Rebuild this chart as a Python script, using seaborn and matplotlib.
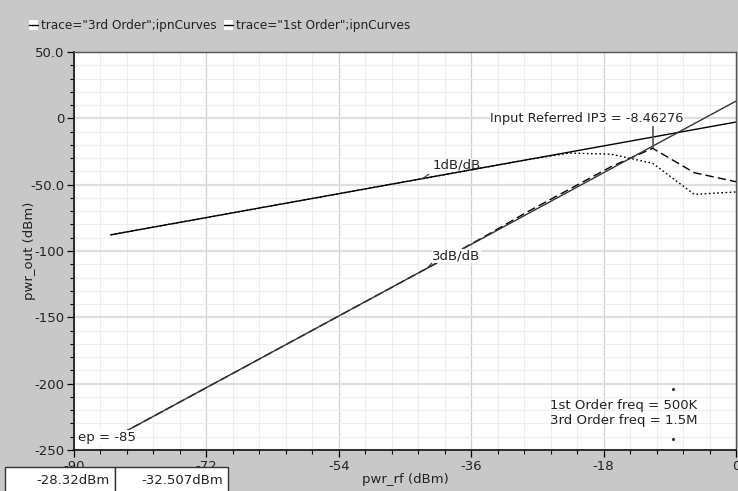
import matplotlib
matplotlib.use("Agg")
import matplotlib.pyplot as plt
from matplotlib.patches import Rectangle
from matplotlib.lines import Line2D
from matplotlib.ticker import MultipleLocator, FixedLocator
import seaborn as sns
import pandas as pd

# ---------------- data ----------------
pin = [-85, -79.33, -73.67, -68, -62.33, -56.67, -51, -45.33, -39.67,
       -34, -28.33, -22.67, -17, -11.33, -5.67, 0]
first_order = [-87.8, -82.1, -76.5, -70.8, -65.1, -59.5, -53.8, -48.1, -42.5,
               -36.8, -31.1, -26.2, -27.0, -33.9, -57.3, -55.5]
third_order = [-242, -225, -208, -191, -174, -157, -140, -123, -106,
               -88.5, -70.4, -53.5, -36.5, -22.6, -41.0, -47.8]
ext1_x = [-85, 0]
ext1_y = [-87.8, -2.8]
ext3_x = [-85, 0]
ext3_y = [-242, 13]
ip3_label = "Input Referred IP3 = -8.46276"
ip3_top = -3.5
freq_dots_x = [-8.6, -8.6]
freq_dots_y = [-204, -241.7]
x_ticks = [-90, -72, -54, -36, -18, 0]
y_ticks = [50, 0, -50, -100, -150, -200, -250]
y_tick_labels = ["50.0", "0", "-50.0", "-100", "-150", "-200", "-250"]
legend_labels = ['trace="3rd Order";ipnCurves', 'trace="1st Order";ipnCurves']
readouts = ["-28.32dBm", "-32.507dBm"]

# ---------------- style ----------------
sns.set_theme(style="white")
plt.rcParams["font.family"] = ["DejaVu Sans"]
plt.rcParams["axes.unicode_minus"] = False

W, H = 738, 491
BG = "#c8c8c8"
fig = plt.figure(figsize=(W / 100, H / 100), dpi=100, facecolor=BG)
ax = fig.add_axes([74 / W, 1 - 450 / H, (736 - 74) / W, (450 - 52) / H])
ax.set_facecolor("white")

df1 = pd.DataFrame({"pin": pin, "pout": first_order})
df3 = pd.DataFrame({"pin": pin, "pout": third_order})
sns.lineplot(data=df1, x="pin", y="pout", ax=ax, color="black", lw=1.0,
             linestyle=(0, (1.2, 1.8)), sort=False, estimator=None)
sns.lineplot(data=df3, x="pin", y="pout", ax=ax, color="black", lw=1.0,
             linestyle=(0, (6, 3)), sort=False, estimator=None)
sns.lineplot(x=ext1_x, y=ext1_y, ax=ax, color="black", lw=1.0, sort=False,
             estimator=None)
sns.lineplot(x=ext3_x, y=ext3_y, ax=ax, color="#333333", lw=1.0, sort=False,
             estimator=None)

# IP3 marker line
ax.vlines(pin[13], third_order[13], ip3_top, color="#555555", lw=1.2, zorder=4)
ax.text(-33.4, -0.5, ip3_label, ha="left", va="center", fontsize=9.3,
        color="#222222", zorder=5,
        bbox=dict(facecolor="white", edgecolor="none", pad=0.5))

# slope annotations
ax.annotate("1dB/dB", xy=(-42.6, -45.4), xytext=(-41.3, -35.5),
            ha="left", va="center", fontsize=9.5, color="#222222",
            arrowprops=dict(arrowstyle="-", lw=0.8, color="#333333",
                            relpos=(0, 0), shrinkA=0, shrinkB=0))
ax.annotate("3dB/dB", xy=(-42.0, -113), xytext=(-41.3, -104),
            ha="left", va="center", fontsize=9.5, color="#222222", zorder=5,
            bbox=dict(facecolor="white", edgecolor="none", pad=0.3),
            arrowprops=dict(arrowstyle="-", lw=0.8, color="#333333",
                            relpos=(0, 0), shrinkA=0, shrinkB=0))
ax.text(-89.5, -240.3, "ep = -85", ha="left", va="center", fontsize=9.5,
        color="#222222", zorder=5,
        bbox=dict(facecolor="white", edgecolor="none", pad=0.3))

ax.text(-25.3, -222, "1st Order freq = 500K\n3rd Order freq = 1.5M",
        ha="left", va="center", fontsize=9.5, color="#222222",
        linespacing=1.15)
ax.scatter(freq_dots_x, freq_dots_y, s=1.5, color="#333333", zorder=5)

# axes, ticks, grid
ax.set_xlim(-90, 0)
ax.set_ylim(-250, 50)
ax.xaxis.set_major_locator(FixedLocator(x_ticks))
ax.xaxis.set_minor_locator(MultipleLocator(3.6))
ax.set_yticks(y_ticks)
ax.set_yticklabels(y_tick_labels)
ax.yaxis.set_minor_locator(MultipleLocator(10))
ax.grid(which="minor", color="#ededed", lw=0.8)
ax.grid(which="major", axis="x", color="#cfcfcf", lw=0.9)
ax.grid(which="major", axis="y", color="#dedede", lw=1.6)
ax.set_axisbelow(True)
ax.tick_params(which="major", direction="out", length=5, width=0.9,
               labelsize=9.5, labelcolor="#222222", color="black", pad=2,
               bottom=True, left=True)
ax.tick_params(which="minor", direction="out", length=3, width=0.8,
               color="black", bottom=True, left=True)
for s in ["left", "bottom"]:
    ax.spines[s].set_color("black")
    ax.spines[s].set_linewidth(1.1)
for s in ["top", "right"]:
    ax.spines[s].set_color("#555555")
    ax.spines[s].set_linewidth(1.0)

ax.set_xlabel("pwr_rf (dBm)", fontsize=9.5, color="#222222")
ax.set_ylabel("pwr_out (dBm)", fontsize=9.5, color="#222222")
ax.xaxis.label.set_va("center")
ax.yaxis.label.set_va("center")
ax.xaxis.set_label_coords((405 - 74) / (736 - 74), -(479 - 450) / (450 - 52))
ax.yaxis.set_label_coords(-(74 - 29) / (736 - 74), 0.5)

# top legend (manual)
ly = 1 - 25 / H
for sx, tx, lab in [(29, 41, legend_labels[0]), (224, 236, legend_labels[1])]:
    fig.add_artist(Rectangle((sx / W, 1 - 30 / H), 9 / W, 10 / H,
                             transform=fig.transFigure, facecolor="white",
                             edgecolor="none"))
    fig.add_artist(Line2D([sx / W, (sx + 9) / W], [ly, ly],
                          transform=fig.transFigure, color="black", lw=1.0))
    fig.text(tx / W, ly, lab, ha="left", va="center", fontsize=8.7,
             color="#222222")

# readout boxes at bottom
for x0, x1, txt in [(5, 115, readouts[0]), (115, 228, readouts[1])]:
    fig.add_artist(Rectangle((x0 / W, -0.01), (x1 - x0) / W, (491 - 467) / H + 0.01,
                             transform=fig.transFigure, facecolor="white",
                             edgecolor="#333333", lw=1.0))
    fig.text((x1 - 5) / W, 1 - 481 / H, txt, ha="right", va="center",
             fontsize=9.5, color="#222222")

fig.savefig("out.png", dpi=100, facecolor=BG)
